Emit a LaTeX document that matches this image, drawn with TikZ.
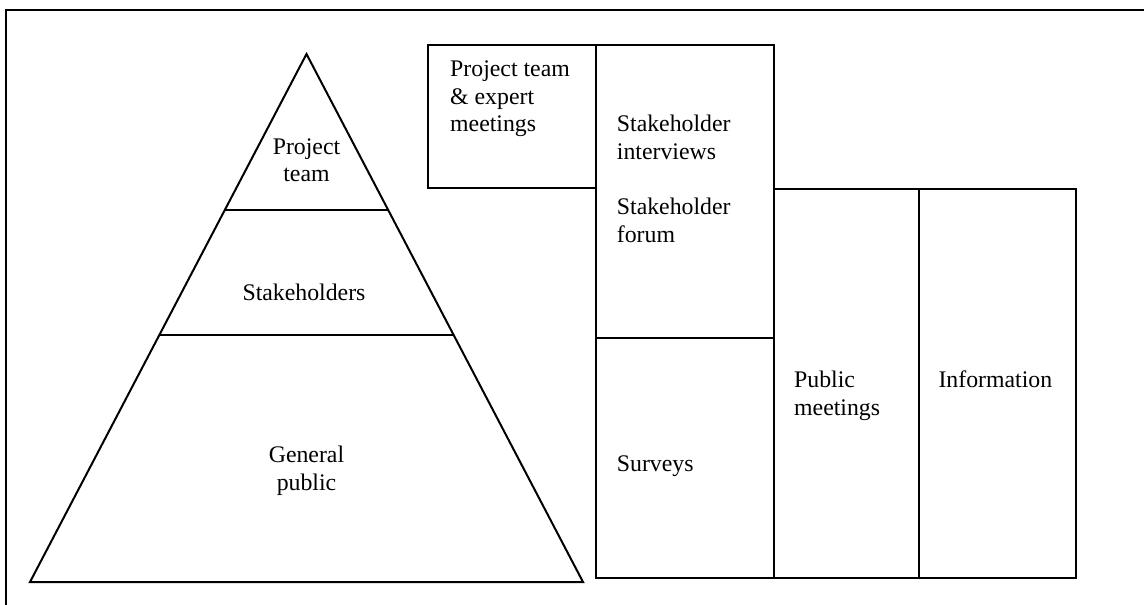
\documentclass[tikz,border=0pt]{standalone}
\usepackage{fontspec}
\setmainfont{Liberation Serif}
\usetikzlibrary{calc}
\begin{document}
\begin{tikzpicture}[x=1pt,y=-1pt,
  shape line/.style={line width=2pt, line join=miter},
  lbl/.style={inner sep=0pt, align=left, anchor=base west, font=\fontsize{23.8}{27.6}\selectfont},
  clbl/.style={inner sep=0pt, align=center, anchor=base, font=\fontsize{23.8}{27.6}\selectfont}]
\useasboundingbox (0,0) rectangle (1144,605);
% outer frame
\draw[line width=2.2pt] (6,640) -- (6,10) -- (1180,10);
% pyramid
\coordinate (apex) at (306.5,54);
\coordinate (bl) at (30,582);
\coordinate (br) at (583,582);
\draw[shape line] (apex) -- (br) -- (bl) -- cycle;
\draw[shape line] ($(apex)!0.2955!(bl)$) coordinate (d1l) -- ($(apex)!0.2955!(br)$) coordinate (d1r);
\draw[shape line] ($(apex)!0.532!(bl)$) coordinate (d2l) -- ($(apex)!0.532!(br)$) coordinate (d2r);
\node[clbl] (pt) at (306.5,181.7) {Project\\team};
\node[clbl] (sh) at (304,300) {Stakeholders};
\node[clbl] (gp) at (306.5,490) {General\\public};
% boxes
\draw[shape line] (428,45) rectangle (596,188);
\draw[shape line] (596,45) rectangle (773.5,338);
\draw[shape line] (596,338) rectangle (773.5,578);
\draw[shape line] (773.5,189) rectangle (918.5,578);
\draw[shape line] (918.5,189) rectangle (1076,578);
\node[lbl] (ptem) at (450,131.7) {Project team\\\& expert\\meetings};
\node[lbl] (shi) at (616.7,159) {Stakeholder\\interviews};
\node[lbl] (shf) at (616.7,242.3) {Stakeholder\\forum};
\node[lbl] (sv) at (616.7,471.7) {Surveys};
\node[lbl] (pm) at (794,415) {Public\\meetings};
\node[lbl] (inf) at (938.3,387) {Information};
\end{tikzpicture}
\end{document}
